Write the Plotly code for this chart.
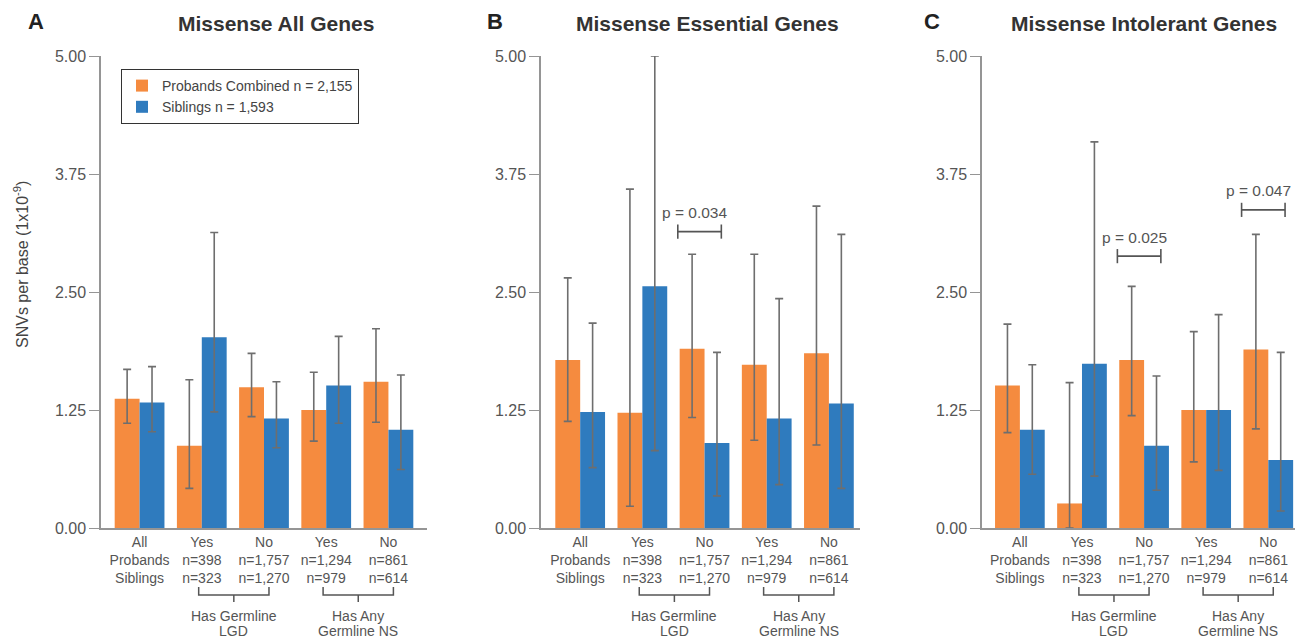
import plotly.graph_objects as go

# ---------------- data ----------------
tick_labels = [
    "All<br>Probands<br>Siblings",
    "Yes<br>n=398<br>n=323",
    "No<br>n=1,757<br>n=1,270",
    "Yes<br>n=1,294<br>n=979",
    "No<br>n=861<br>n=614",
]
panel_titles = ["Missense All Genes", "Missense Essential Genes", "Missense Intolerant Genes"]
panel_letters = ["A", "B", "C"]
series_names = ["Probands Combined n = 2,155", "Siblings n = 1,593"]

# Panel A
a_probands = [1.37, 0.87, 1.49, 1.25, 1.55]
a_probands_hi = [1.68, 1.57, 1.85, 1.65, 2.11]
a_probands_lo = [1.11, 0.42, 1.18, 0.92, 1.12]
a_siblings = [1.33, 2.02, 1.16, 1.51, 1.04]
a_siblings_hi = [1.71, 3.13, 1.55, 2.03, 1.62]
a_siblings_lo = [1.02, 1.23, 0.85, 1.11, 0.62]

# Panel B
b_probands = [1.78, 1.22, 1.90, 1.73, 1.85]
b_probands_hi = [2.65, 3.59, 2.90, 2.90, 3.41]
b_probands_lo = [1.13, 0.23, 1.17, 0.93, 0.88]
b_siblings = [1.23, 2.56, 0.90, 1.16, 1.32]
b_siblings_hi = [2.17, 5.00, 1.86, 2.43, 3.11]
b_siblings_lo = [0.64, 0.82, 0.34, 0.46, 0.42]

# Panel C
c_probands = [1.51, 0.26, 1.78, 1.25, 1.89]
c_probands_hi = [2.16, 1.54, 2.56, 2.08, 3.11]
c_probands_lo = [1.01, 0.00, 1.19, 0.70, 1.05]
c_siblings = [1.04, 1.74, 0.87, 1.25, 0.72]
c_siblings_hi = [1.73, 4.09, 1.61, 2.26, 1.86]
c_siblings_lo = [0.57, 0.55, 0.40, 0.61, 0.18]

# p-value annotations: (panel index, group index, bracket height, label)
pvals = [(1, 2, 3.14, "p = 0.034"), (2, 2, 2.88, "p = 0.025"), (2, 4, 3.37, "p = 0.047")]

# group brackets under the x axes: (first group, last group, line 1, line 2)
bracket_groups = [(1, 2, "Has Germline", "LGD"), (3, 4, "Has Any", "Germline NS")]

y_ticks = [0.0, 1.25, 2.5, 3.75, 5.0]

# ---------------- styling ----------------
W, H = 1295, 639
ORANGE = "#F58B3F"
BLUE = "#2F7BBE"
ERR = "#6E6E6E"
AXIS = "#959595"
FONT = "Arial, Liberation Sans, sans-serif"

def px_x(p):
    return p / W

def px_y(p):
    return (H - p) / H

x_domains = [(101, 427), (541, 860), (982, 1295)]
x_ranges = [(-0.62, 4.62), (-0.63, 4.5), (-0.61, 4.43)]
y_dom = [px_y(528), px_y(56)]
title_cx = [276, 708, 1144]
letter_cx = [36, 495, 932]

panels = [
    (a_probands, a_probands_hi, a_probands_lo, a_siblings, a_siblings_hi, a_siblings_lo),
    (b_probands, b_probands_hi, b_probands_lo, b_siblings, b_siblings_hi, b_siblings_lo),
    (c_probands, c_probands_hi, c_probands_lo, c_siblings, c_siblings_hi, c_siblings_lo),
]

fig = go.Figure()
xs = list(range(len(tick_labels)))

for i, (po, po_hi, po_lo, si, si_hi, si_lo) in enumerate(panels):
    xa = "x" if i == 0 else f"x{i+1}"
    ya = "y" if i == 0 else f"y{i+1}"
    for name, vals, hi, lo, col in [
        (series_names[0], po, po_hi, po_lo, ORANGE),
        (series_names[1], si, si_hi, si_lo, BLUE),
    ]:
        fig.add_trace(go.Bar(
            x=xs, y=vals, name=name, marker=dict(color=col, line=dict(width=0)),
            showlegend=(i == 0), legendgroup=name, offsetgroup=name,
            xaxis=xa, yaxis=ya, cliponaxis=False,
            error_y=dict(type="data", symmetric=False,
                         array=[h - v for h, v in zip(hi, vals)],
                         arrayminus=[v - l for v, l in zip(vals, lo)],
                         color=ERR, thickness=1.6, width=4),
        ))

layout = dict(
    template="none",
    width=W, height=H, autosize=False,
    margin=dict(l=0, r=0, t=0, b=0, pad=0, autoexpand=False),
    paper_bgcolor="white", plot_bgcolor="white",
    barmode="group", bargap=0.2, bargroupgap=0.0,
    font=dict(family=FONT, color="#555555"),
    legend=dict(x=px_x(121), y=px_y(69), xanchor="left", yanchor="top",
                bordercolor="#333333", borderwidth=1, bgcolor="white",
                font=dict(size=14, color="#444444"), tracegroupgap=0,
                itemwidth=30, orientation="v"),
)

for i in range(3):
    xk = "xaxis" if i == 0 else f"xaxis{i+1}"
    yk = "yaxis" if i == 0 else f"yaxis{i+1}"
    ya = "y" if i == 0 else f"y{i+1}"
    xa = "x" if i == 0 else f"x{i+1}"
    layout[xk] = dict(
        domain=[px_x(x_domains[i][0]), px_x(x_domains[i][1])],
        anchor=ya, range=list(x_ranges[i]), automargin=False,
        tickmode="array", tickvals=xs, ticktext=tick_labels,
        ticks="", showgrid=False, zeroline=False,
        showline=True, linecolor=AXIS, linewidth=1.5,
        tickfont=dict(size=14, color="#555555"), fixedrange=True,
    )
    layout[yk] = dict(
        domain=y_dom, anchor=xa, range=[0, 5.0], automargin=False,
        tickmode="array", tickvals=y_ticks, tickformat=".2f",
        ticks="outside", ticklen=10, tickwidth=1.2, tickcolor=AXIS,
        showgrid=False, zeroline=False,
        showline=True, linecolor=AXIS, linewidth=1.5,
        tickfont=dict(size=16, color="#555555"), fixedrange=True,
    )

fig.update_layout(**layout)

annotations = []
shapes = []

# titles and letters
for i in range(3):
    annotations.append(dict(x=px_x(title_cx[i]), y=px_y(24), xref="paper", yref="paper",
                            text=f"<b>{panel_titles[i]}</b>", showarrow=False,
                            font=dict(size=21, color="#333333", family=FONT),
                            xanchor="center", yanchor="middle"))
    annotations.append(dict(x=px_x(letter_cx[i]), y=px_y(21), xref="paper", yref="paper",
                            text=f"<b>{panel_letters[i]}</b>", showarrow=False,
                            font=dict(size=22, color="#222222", family=FONT),
                            xanchor="center", yanchor="middle"))

# y-axis title
annotations.append(dict(x=px_x(21), y=px_y(265), xref="paper", yref="paper",
                        text="SNVs per base (1x10<sup>-9</sup>)", showarrow=False,
                        textangle=-90, font=dict(size=16, color="#444444", family=FONT),
                        xanchor="center", yanchor="middle"))

# grouping brackets under x axes
for i in range(3):
    xa = "x" if i == 0 else f"x{i+1}"
    for g0, g1, line1, line2 in bracket_groups:
        x0, x1 = g0 - 0.05, g1 + 0.08
        xm = (x0 + x1) / 2
        ytop, ymid, ybot = px_y(587), px_y(595), px_y(602)
        line = dict(color="#555555", width=1.5)
        shapes.append(dict(type="path", xref=xa, yref="paper",
                           path=f"M {x0},{ytop} L {x0},{ymid} L {x1},{ymid} L {x1},{ytop}",
                           line=line))
        shapes.append(dict(type="line", xref=xa, yref="paper",
                           x0=xm, x1=xm, y0=ymid, y1=ybot, line=line))
        for txt, yc in [(line1, 616), (line2, 631)]:
            annotations.append(dict(x=xm, y=px_y(yc), xref=xa, yref="paper", text=txt,
                                    showarrow=False, xanchor="center", yanchor="middle",
                                    font=dict(size=14, color="#555555", family=FONT)))

# p-value brackets
for (pi, g, h, label) in pvals:
    xa = "x" if pi == 0 else f"x{pi+1}"
    ya = "y" if pi == 0 else f"y{pi+1}"
    x0, x1 = g - 0.43, g + 0.27
    line = dict(color="#555555", width=1.6)
    shapes.append(dict(type="line", xref=xa, yref=ya, x0=x0, x1=x1, y0=h, y1=h, line=line))
    shapes.append(dict(type="line", xref=xa, yref=ya, x0=x0, x1=x0, y0=h - 0.075, y1=h + 0.075, line=line))
    shapes.append(dict(type="line", xref=xa, yref=ya, x0=x1, x1=x1, y0=h - 0.075, y1=h + 0.075, line=line))
    annotations.append(dict(x=(x0 + x1) / 2 - 0.08, y=h + 0.2, xref=xa, yref=ya, text=label,
                            showarrow=False, xanchor="center", yanchor="middle",
                            font=dict(size=15.5, color="#555555", family=FONT)))

fig.update_layout(annotations=annotations, shapes=shapes)
fig.write_html(
    "out.html",
    config={"responsive": False, "displayModeBar": False},
    post_script="document.body.style.margin='0';document.body.style.overflow='hidden';",
)
